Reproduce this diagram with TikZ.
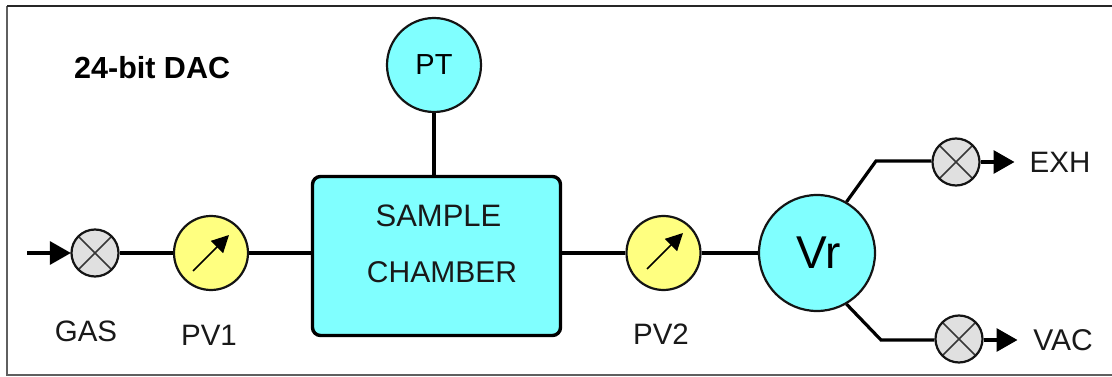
\documentclass[tikz,border=0pt]{standalone}
\usepackage{fontspec}
\setmainfont{Liberation Sans}
\usetikzlibrary{arrows.meta,calc}
\definecolor{cyanfill}{RGB}{128,255,255}
\definecolor{yellowfill}{RGB}{255,255,128}
\definecolor{valvefill}{RGB}{224,224,224}
\definecolor{framegrey}{RGB}{95,95,95}
\definecolor{linedark}{RGB}{20,20,20}
\definecolor{textdark}{RGB}{25,25,25}
\tikzset{
  x=1pt,y=-1pt,
  pipe/.style={line width=3.2pt,draw=black},
  flow/.style={pipe,-{Triangle[length=21pt,width=23pt]},shorten >=-0.5pt},
  label29/.style={inner sep=0pt,text=textdark,font=\fontsize{29.5}{32}\selectfont},
  valve/.style={circle,draw=linedark,line width=2.2pt,fill=valvefill,minimum size=47pt,inner sep=0pt,
    path picture={\draw[line width=1.5pt,draw=linedark!85]
      (path picture bounding box.south west)--(path picture bounding box.north east)
      (path picture bounding box.north west)--(path picture bounding box.south east);}},
  gauge/.style={circle,draw=linedark,line width=2.2pt,fill=yellowfill,minimum size=74pt,inner sep=0pt},
  needle/.style={line width=1.6pt,draw=black,-{Triangle[length=17pt,width=17pt]}},
  cyancircle/.style={circle,draw=linedark,line width=2.2pt,fill=cyanfill,inner sep=0pt,text=black},
}
\begin{document}
\begin{tikzpicture}
\useasboundingbox (0,0) rectangle (1112,377);
\fill[white] (0,0) rectangle (1112,377);
\coordinate (fa) at (7,6);
\coordinate (fb) at (1112,375);
\draw[line width=2.2pt,draw=framegrey] (fb) -- (fb -| fa) -- (fa);
\draw[line width=2.4pt,draw=black!85] (fa) -- (fa -| fb);

\node[inner sep=0pt,anchor=west,text=black,font=\fontsize{30.5}{32}\selectfont\bfseries] (title) at (74,68) {24-bit DAC};

\node[cyancircle,minimum width=94pt,minimum height=94pt,font=\fontsize{29}{32}\selectfont] (pt) at (434,65) {PT};
\node[draw=black,line width=3.4pt,fill=cyanfill,rounded corners=8pt,minimum width=248pt,minimum height=159pt,inner sep=0pt] (chamber) at (436.5,256) {};
\node[label29,font=\fontsize{31}{32}\selectfont] (sample) at (438.5,216) {SAMPLE};
\node[label29,font=\fontsize{30}{32}\selectfont] (chambertxt) at (442,272) {CHAMBER};

\node[valve] (vgas) at (95,253) {};
\node[gauge] (pv1) at (211,253) {};
\node[gauge] (pv2) at (663.5,253) {};
\node[cyancircle,minimum size=116pt,font=\fontsize{46}{50}\selectfont] (vr) at (817,253) {\hspace*{3pt}Vr};
\node[valve] (vexh) at (956,162) {};
\node[valve] (vvac) at (959,339) {};

\coordinate (gasin) at (27,253);
\coordinate (bendtop) at (876,161);
\coordinate (bendbot) at (881,340);
\coordinate (exhout) at (1014,162);
\coordinate (vacout) at (1017,340);

\draw[flow] (gasin) -- (vgas.west);
\draw[pipe] (vgas.east) -- (pv1.west);
\draw[pipe] (pv1.east) -- ($(pv1.east -| chamber.west)+(3,0)$);
\draw[pipe] (pt.south) -- (pt.south |- chamber.north);
\draw[pipe] (pv2.west -| chamber.east) -- (pv2.west);
\draw[pipe] (pv2.east) -- (vr.west);
\draw[pipe,line join=miter] (vr.60) -- (bendtop) -- (bendtop -| vexh.west);
\draw[pipe,line join=miter] (vr.-60) -- (bendbot) -- (bendbot -| vvac.west);
\draw[flow] (vexh.east) -- (exhout);
\draw[flow] (vvac.east |- vacout) -- (vacout);

\draw[needle] ($(pv1)+(-18,18)$) -- ($(pv1)+(18,-18)$);
\draw[needle] ($(pv2)+(-16.5,16)$) -- ($(pv2)+(19.5,-20)$);

\node[label29] (gas) at (86,331) {GAS};
\node[label29] (pv1l) at (209,335) {PV1};
\node[label29] (pv2l) at (661,334) {PV2};
\node[label29] (exh) at (1060,162) {EXH};
\node[label29,font=\fontsize{30}{32}\selectfont] (vac) at (1063,340) {VAC};
\end{tikzpicture}
\end{document}
